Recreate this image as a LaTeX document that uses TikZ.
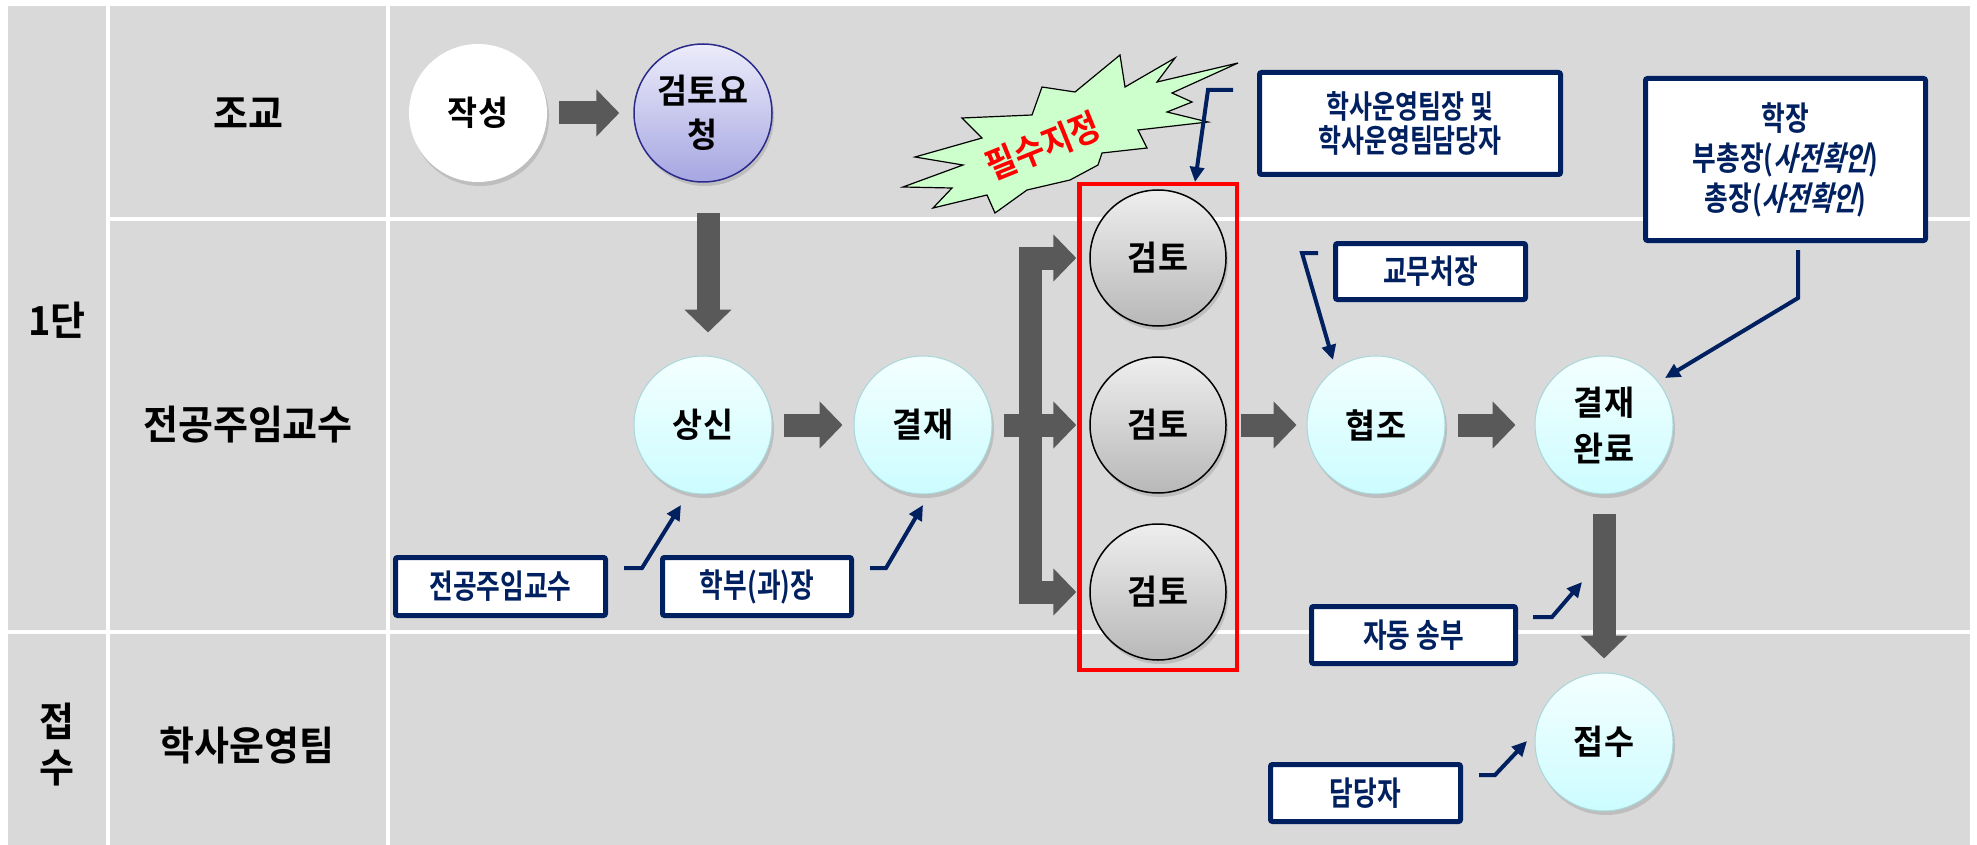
\documentclass[tikz,border=0pt]{standalone}
\usepackage{fontspec}
\setmainfont{Noto Sans CJK KR}
\newfontfamily\fLab{Noto Sans CJK KR Bold}[FakeStretch=0.95]
\newfontfamily\fCir{Noto Sans CJK KR Bold}[FakeStretch=0.96]
\newfontfamily\fBox{Noto Sans CJK KR Bold}[FakeStretch=0.78]
\newfontfamily\fBoxI{Noto Sans CJK KR Bold}[FakeStretch=0.78,FakeSlant=0.25]
\newfontfamily\fStar{Noto Sans CJK KR Bold}[FakeStretch=0.9]
\usetikzlibrary{arrows.meta,shadows,calc}
\definecolor{bg}{HTML}{D9D9D9}
\definecolor{navy}{HTML}{002060}
\definecolor{blk}{HTML}{595959}
\definecolor{cyanT}{HTML}{F4FFFF}
\definecolor{cyanB}{HTML}{CCFCFF}
\definecolor{cyanD}{HTML}{A9D6D9}
\definecolor{lavT}{HTML}{ECECFA}
\definecolor{lavB}{HTML}{A6A6E2}
\definecolor{lavD}{HTML}{2A2A8A}
\definecolor{greyT}{HTML}{EEEEEE}
\definecolor{greyB}{HTML}{B8B8B8}
\definecolor{starG}{HTML}{CCFFCC}
\begin{document}
\begin{tikzpicture}[x=1pt,y=-1pt,
  lab/.style={font=\fLab\fontsize{40}{46}\selectfont, align=center, inner sep=0pt},
  circ/.style={circle, minimum size=138pt, inner sep=0pt, align=center,
    font=\fCir\fontsize{34}{44}\selectfont,
    drop shadow={shadow xshift=2pt,shadow yshift=-4pt,opacity=0.3}},
  whitec/.style={circ, fill=white},
  cyanc/.style={circ, top color=cyanT, bottom color=cyanB, draw=cyanD, line width=1pt},
  lavc/.style={circ, top color=lavT, bottom color=lavB, draw=lavD, line width=1.5pt},
  greyc/.style={circ, minimum size=136pt, top color=greyT, bottom color=greyB, draw=black, line width=1.5pt},
  blockarrow/.style={draw=blk, line width=23pt, line join=miter, -{Triangle[length=23pt,width=46pt]}},
  callbox/.style={draw=navy, line width=5pt, fill=white, rounded corners=2pt,
    font=\fBox\fontsize{33}{38}\selectfont, text=navy, align=center, inner sep=0pt},
  callarrow/.style={draw=navy, line width=4pt, line join=miter, -{Triangle[length=15pt,width=14pt]}},
]
\useasboundingbox (0,0) rectangle (1977,845);
% background grid
\fill[bg] (8,6) rectangle (1970,845);
\draw[white, line width=4pt] (108,6) -- (108,845);
\draw[white, line width=4pt] (388,6) -- (388,845);
\draw[white, line width=4pt] (108,219) -- (1970,219);
\draw[white, line width=4pt] (8,632) -- (1970,632);

% lane labels
\node[lab] (l1) at (57,320) {1단};
\node[lab] (l2) at (57,745) {접\\수};
\node[lab] (r1) at (248,113) {조교};
\node[lab] (r2) at (248,425) {전공주임교수};
\node[lab] (r3) at (247,745) {학사운영팀};

% red box
\node[draw=red, line width=4.5pt, minimum width=157.5pt, minimum height=485.5pt, inner sep=0pt] (rb) at (1158,427) {};

% starburst
\draw[fill=starG, draw=black, line width=1.2pt]
 (1238,63) -- (1172,93) -- (1192,102) -- (1167,112) -- (1208,122) -- (1138,130)
 -- (1147,148) -- (1102,153) -- (1098,165) -- (1070,180) -- (1027,190) -- (995,213)
 -- (987,195) -- (933,208) -- (952,188) -- (903,187) -- (963,165) -- (915,157)
 -- (982,138) -- (962,118) -- (1032,115) -- (1042,87) -- (1075,92) -- (1120,55)
 -- (1125,87) -- (1175,58) -- (1157,82) -- cycle;
\node[rotate=22, text=red, font=\fStar\fontsize{36}{40}\selectfont, inner sep=0pt] (must) at (1043,146) {필수지정};

% process nodes
\node[whitec] (ja) at (478,113) {작성};
\node[lavc] (yc) at (703,113) {검토요\\청};
\node[cyanc] (ss) at (703,425) {상신};
\node[cyanc] (gj) at (923,425) {결재};
\node[greyc] (k1) at (1158,258) {검토};
\node[greyc] (k2) at (1158,425) {검토};
\node[greyc] (k3) at (1158,592) {검토};
\node[cyanc] (hj) at (1376,425) {협조};
\node[cyanc, font=\fCir\fontsize{34}{46}\selectfont] (gw) at (1604,425) {결재\\완료};
\node[cyanc] (js) at (1604,742) {접수};

% block arrows
\draw[blockarrow, shorten <=12pt, shorten >=14pt] (ja) -- (yc);
\draw[blockarrow, shorten <=30pt, shorten >=23pt] ([xshift=5pt]yc.south) -- ([xshift=5pt]ss.north);
\draw[blockarrow, shorten <=11pt, shorten >=11pt] (ss) -- (gj);
\coordinate (br) at (1030,425);
\draw[blockarrow, shorten <=11pt, shorten >=13pt] (gj) -- (k2);
\draw[blockarrow, shorten >=13pt] (br) |- (k1);
\draw[blockarrow, shorten >=13pt] (br) |- (k3);
\draw[blockarrow, shorten <=14pt, shorten >=10pt] (k2) -- (hj);
\draw[blockarrow, shorten <=12pt, shorten >=19pt] (hj) -- (gw);
\draw[blockarrow, shorten <=19pt, shorten >=14pt] (gw) -- (js);

% callout boxes
\node[callbox, minimum width=210pt, minimum height=58pt] (b1) at (500.5,586.5) {전공주임교수};
\node[callbox, minimum width=189pt, minimum height=58pt] (b2) at (757,586.5) {학부(과)장};
\node[callbox, minimum width=301pt, minimum height=102pt, font=\fBox\fontsize{32}{34}\selectfont] (b3) at (1410,123.5) {학사운영팀장 및\\학사운영팀담당자};
\node[callbox, minimum width=190pt, minimum height=56pt] (b4) at (1430.5,271.5) {교무처장};
\node[callbox, minimum width=280pt, minimum height=162pt, font=\fBox\fontsize{33}{40}\selectfont] (b5) at (1785.5,159.5) {학장\\부총장({\fBoxI 사전확인})\\총장({\fBoxI 사전확인})};
\node[callbox, minimum width=204pt, minimum height=57pt] (b6) at (1413.5,635) {자동 송부};
\node[callbox, minimum width=190pt, minimum height=57pt] (b7) at (1365.5,793) {담당자};

% callout arrows
\draw[callarrow] ($(b1.north east)+(16,13)$) -- ++(18,0) -- ($(ss)+(-22,80)$);
\draw[callarrow] ($(b2.north east)+(16,13)$) -- ++(16,0) -- ($(gj)+(0,80)$);
\draw[callarrow] ($(b3.north west)+(-24,20)$) -- ++(-25,0) -- ($(rb.north)+(37,0)$);
\draw[callarrow] ($(b4.north west)+(-15,12)$) -- ++(-16,0) -- ($(hj)+(-43,-65)$);
\draw[callarrow] ($(b5.south)+(12.5,7)$) -- ++(0,48) -- ($(gw)+(61,-47)$);
\draw[callarrow] ($(b6.north east)+(15,13)$) -- ++(19,0) -- ($(gw)+(-22,157)$);
\draw[callarrow] ($(b7.north east)+(16,13)$) -- ++(16,0) -- ($(js)+(-77,-1)$);
\end{tikzpicture}
\end{document}
